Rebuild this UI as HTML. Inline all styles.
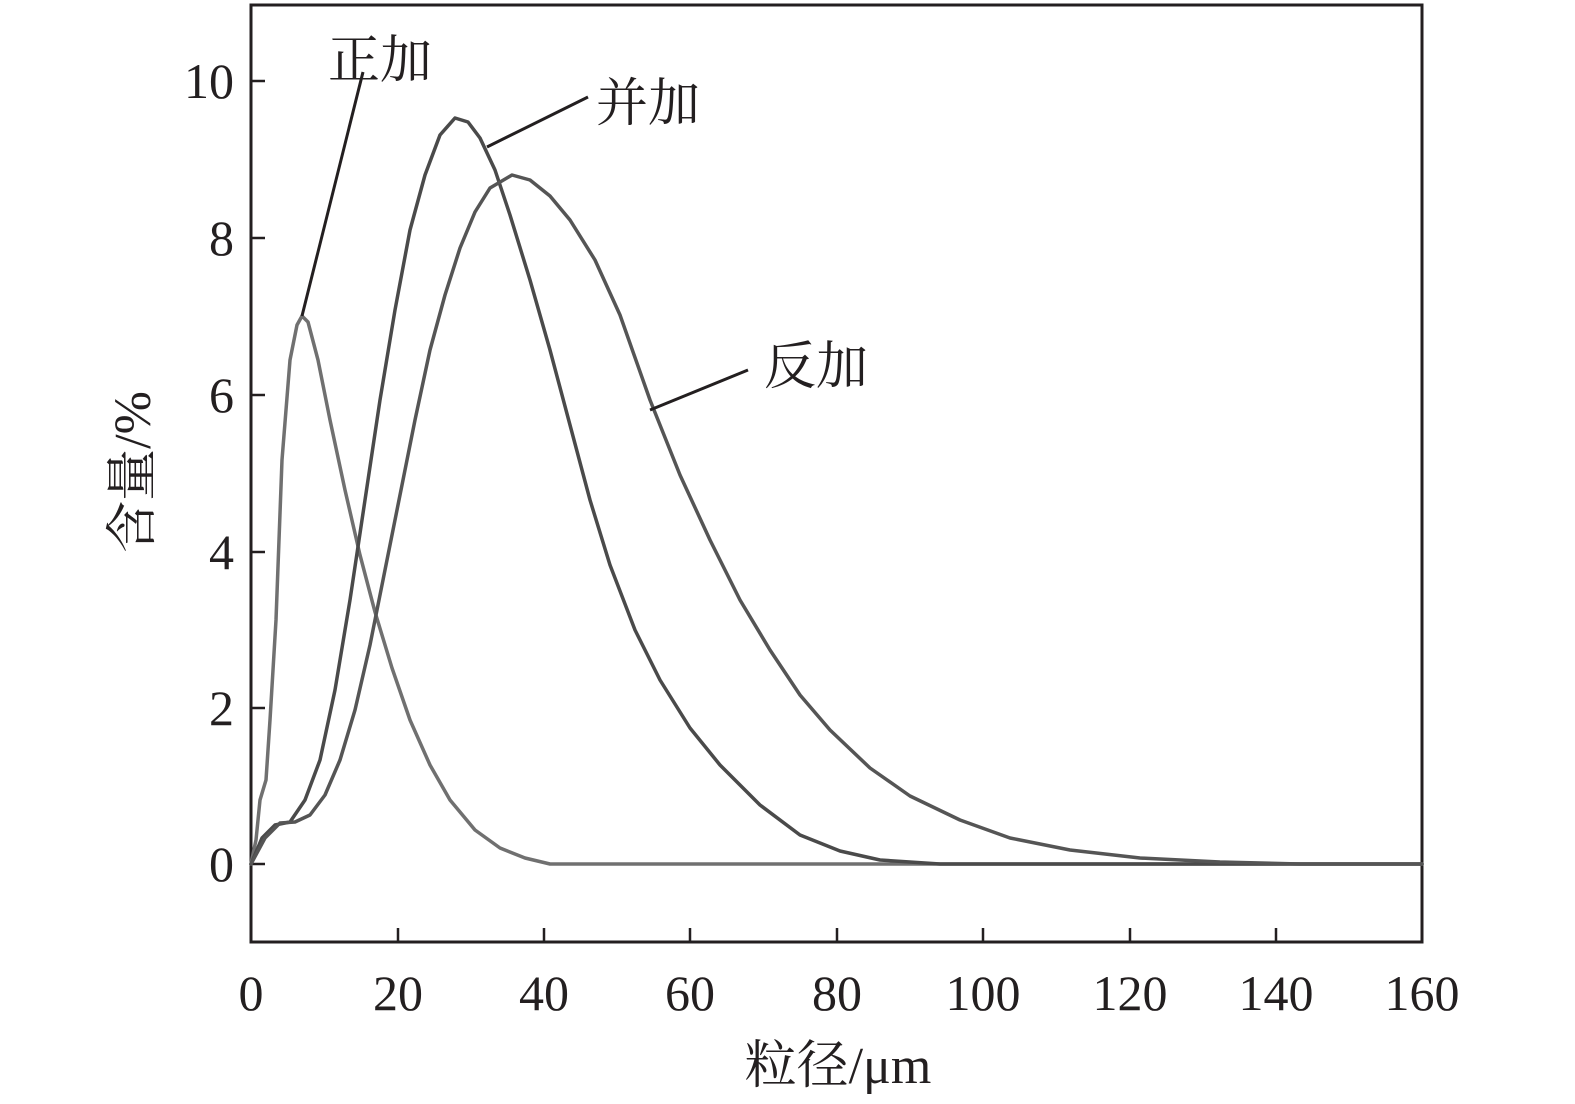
<!DOCTYPE html>
<html><head><meta charset="utf-8"><style>
html,body{margin:0;padding:0;background:#fff;}
svg{display:block}
text{font-family:"Liberation Serif","Noto Serif CJK SC",serif;fill:#231f20}
</style></head><body>
<svg width="1575" height="1104" viewBox="0 0 1575 1104" xmlns="http://www.w3.org/2000/svg">
<rect x="251" y="5" width="1171" height="937" fill="none" stroke="#231f20" stroke-width="3"/>
<g stroke="#231f20" stroke-width="2.5">
<line x1="398" y1="942" x2="398" y2="928"/><line x1="544" y1="942" x2="544" y2="928"/>
<line x1="690" y1="942" x2="690" y2="928"/><line x1="837" y1="942" x2="837" y2="928"/>
<line x1="983" y1="942" x2="983" y2="928"/><line x1="1130" y1="942" x2="1130" y2="928"/>
<line x1="1276" y1="942" x2="1276" y2="928"/>
<line x1="251" y1="81" x2="265" y2="81"/><line x1="251" y1="238" x2="265" y2="238"/>
<line x1="251" y1="395" x2="265" y2="395"/><line x1="251" y1="552" x2="265" y2="552"/>
<line x1="251" y1="708" x2="265" y2="708"/><line x1="251" y1="864" x2="265" y2="864"/>
</g>
<g font-size="50" text-anchor="end">
<text x="234" y="881">0</text><text x="234" y="725">2</text><text x="234" y="569">4</text>
<text x="234" y="412">6</text><text x="234" y="255">8</text><text x="234" y="98">10</text>
</g>
<g font-size="50" text-anchor="middle">
<text x="251" y="1010">0</text><text x="398" y="1010">20</text><text x="544" y="1010">40</text>
<text x="690" y="1010">60</text><text x="837" y="1010">80</text><text x="983" y="1010">100</text>
<text x="1130" y="1010">120</text><text x="1276" y="1010">140</text><text x="1422" y="1010">160</text>
</g>
<text x="838" y="1083" font-size="52" text-anchor="middle">粒径/μm</text>
<text transform="translate(150,472) rotate(-90)" font-size="52" text-anchor="middle">含量/%</text>
<g fill="none" stroke-linejoin="round" stroke-linecap="round" stroke-width="3.5">
<path stroke="#707070" d="M251,864 L256,840 L260,800 L266,780 L270,720 L276,620 L282,460 L290,360 L297,325 L302,316 L308,322 L318,360 L330,420 L345,490 L360,555 L375,612 L392,668 L410,720 L430,765 L450,800 L475,830 L500,848 L525,858 L550,864 L1422,864"/>
<path stroke="#4a4a4a" d="M251,864 L262,838 L275,825 L290,822 L305,800 L320,760 L335,690 L350,600 L365,500 L380,400 L395,310 L410,230 L425,175 L440,135 L455,118 L468,122 L480,138 L495,170 L510,215 L530,280 L550,350 L570,425 L590,500 L610,565 L635,630 L660,680 L690,728 L720,765 L760,805 L800,835 L840,851 L880,860 L940,864 L1422,864"/>
<path stroke="#555" d="M251,864 L265,838 L280,823 L295,822 L310,815 L325,795 L340,760 L355,710 L370,645 L385,570 L400,495 L415,420 L430,350 L445,295 L460,248 L475,212 L490,188 L512,175 L530,180 L550,196 L570,220 L595,260 L620,315 L650,400 L680,475 L710,540 L740,600 L770,650 L800,695 L830,730 L870,768 L910,796 L960,820 L1010,838 L1070,850 L1140,858 L1220,862 L1300,864 L1422,864"/>
</g>
<g stroke="#231f20" stroke-width="3">
<line x1="363" y1="72" x2="302" y2="316"/>
<line x1="588" y1="97" x2="487" y2="147"/>
<line x1="748" y1="370" x2="650" y2="410"/>
</g>
<g font-size="52">
<text x="328" y="78">正加</text>
<text x="596" y="121">并加</text>
<text x="764" y="384">反加</text>
</g>
</svg>
</body></html>
